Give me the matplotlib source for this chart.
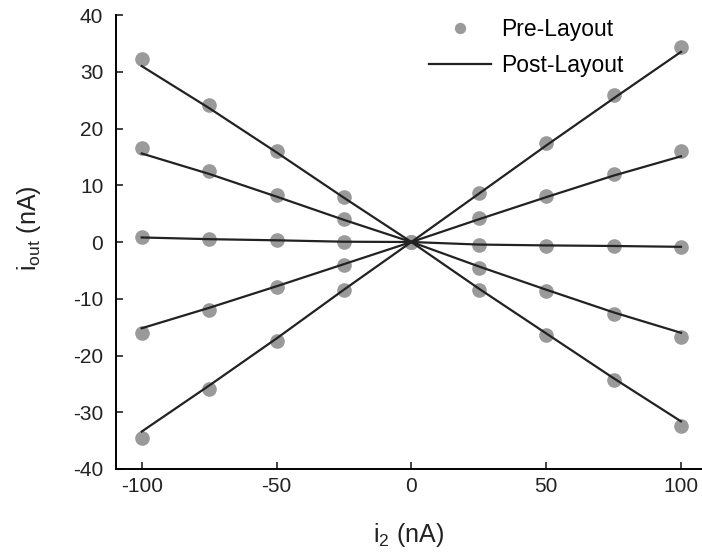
import matplotlib
matplotlib.use("Agg")
import matplotlib.pyplot as plt

plt.rcParams['font.family'] = ['Liberation Sans', 'DejaVu Sans']
plt.rcParams['axes.unicode_minus'] = False
plt.rcParams['mathtext.default'] = 'regular'

i2 = [-100, -75, -50, -25, 0, 25, 50, 75, 100]

# pre-layout (points)
pre = [
    [32.2, 24.1, 16.1, 8.0, 0, -8.5, -16.4, -24.4, -32.5],
    [16.5, 12.5, 8.2, 4.0, 0, -4.5, -8.6, -12.6, -16.7],
    [0.9, 0.5, 0.35, 0.05, 0, -0.5, -0.65, -0.7, -0.93],
    [-16.1, -12.0, -8.0, -4.0, 0, 4.2, 8.1, 12.0, 16.1],
    [-34.6, -25.9, -17.4, -8.5, 0, 8.7, 17.4, 25.9, 34.4],
]

# post-layout (lines)
post = [
    [31.0, 23.6, 15.8, 7.8, 0, -8.2, -16.1, -24.0, -31.6],
    [15.6, 12.0, 8.0, 3.9, 0, -4.3, -8.4, -12.4, -16.0],
    [0.8, 0.5, 0.3, 0.05, 0, -0.45, -0.6, -0.7, -0.85],
    [-15.2, -11.6, -7.8, -3.9, 0, 4.0, 7.9, 11.7, 15.1],
    [-33.4, -25.3, -17.0, -8.4, 0, 8.5, 17.0, 25.3, 33.5],
]

fig = plt.figure(figsize=(7.02, 5.58), dpi=100)
ax = fig.add_axes([0.165, 0.1595, 0.835, 0.8136])

for k in range(len(pre)):
    ax.plot(i2, pre[k], 'o', color='#9a9a9a', markersize=9.5, zorder=2,
            label='Pre-Layout' if k == 0 else None)
for k in range(len(post)):
    ax.plot(i2, post[k], '-', color='#222222', lw=1.6, zorder=3,
            label='Post-Layout' if k == 0 else None)

ax.set_xlim(-109.6, 107.8)
ax.set_ylim(-40, 40)
ax.set_xticks([-100, -50, 0, 50, 100])
ax.set_yticks(range(-40, 41, 10))
ax.tick_params(direction='in', length=5, width=1.2, labelsize=15, colors='#222222')
ax.tick_params(axis='y', pad=9)
ax.tick_params(axis='x', pad=6)
ax.spines['top'].set_visible(False)
ax.spines['right'].set_visible(False)
ax.spines['left'].set_linewidth(1.4)
ax.spines['bottom'].set_linewidth(1.4)

ax.set_xlabel('i$_2$ (nA)', fontsize=18, color='#222222')
ax.xaxis.set_label_coords(0.5, -0.115)
ax.set_ylabel('i$_{out}$ (nA)', fontsize=18, color='#222222')
ax.yaxis.set_label_coords(-0.125, 0.53)

ax.legend(loc='upper left', bbox_to_anchor=(0.535, 0.993), borderaxespad=0,
          borderpad=0, frameon=False, fontsize=16.5, handlelength=2.7,
          handletextpad=0.42, labelspacing=0.57, markerscale=0.75)

fig.savefig('out.png', dpi=100)
